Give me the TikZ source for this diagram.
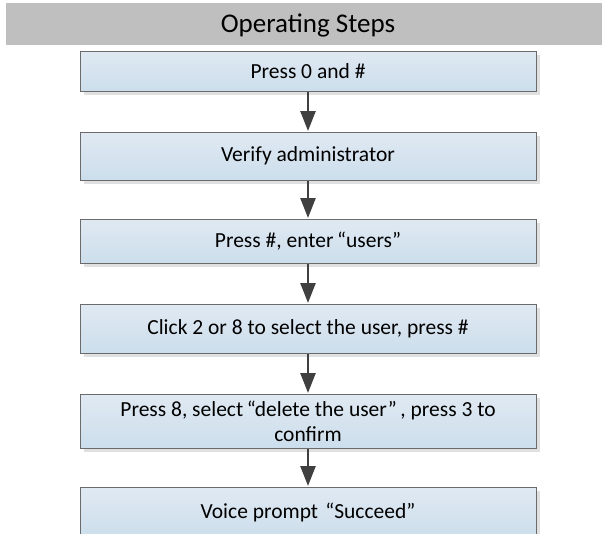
\documentclass[tikz,border=0pt]{standalone}
\usepackage{fontspec}
\setmainfont{Carlito}
\usepackage{tikz}
\usetikzlibrary{arrows.meta,shadows}
\definecolor{boxtop}{RGB}{224,233,242}
\definecolor{boxbottom}{RGB}{204,222,236}
\definecolor{headgray}{RGB}{191,191,191}

\begin{document}
\begin{tikzpicture}[x=1pt,y=-1pt,
    stepbox/.style={draw=black!58,line width=1pt,top color=boxtop,bottom color=boxbottom,
      minimum width=456pt,align=center,font=\fontsize{21.5}{25}\selectfont,
      drop shadow={shadow xshift=4pt,shadow yshift=-4pt,fill=black!12,opacity=1}},
    flow/.style={draw=black!75,line width=2.5pt,-{Triangle[length=20pt,width=15pt]},shorten >=0.5pt}]
          \useasboundingbox (0,0) rectangle (602,533);
          \fill[headgray] (6,3) rectangle (602,45);
          \node[font=\fontsize{27}{30}\selectfont] (title) at (308,25) {Operating Steps};
          \node[stepbox,minimum height=40pt] (s1) at (308,71) {Press 0 and \#};
          \node[stepbox,minimum height=48pt] (s2) at (308,156) {Verify administrator};
          \node[stepbox,minimum height=44pt] (s3) at (308,241) {Press \#, enter\,“users”};
          \node[stepbox,minimum height=49pt] (s4) at (308,328.5) {Click 2 or 8 to select the user, press \#};
          \node[stepbox,minimum height=54pt] (s5) at (308,421) {Press 8, select\,“delete the user”\,, press 3 to\\confirm};
          \node[stepbox,minimum height=50pt] (s6) at (308,512) {Voice prompt\,\,“Succeed”};
          \draw[flow] (s1) -- (s2);
          \draw[flow] (s2) -- (s3);
          \draw[flow] (s3) -- (s4);
          \draw[flow] (s4) -- (s5);
          \draw[flow] (s5) -- (s6);
        \end{tikzpicture}
\end{document}
